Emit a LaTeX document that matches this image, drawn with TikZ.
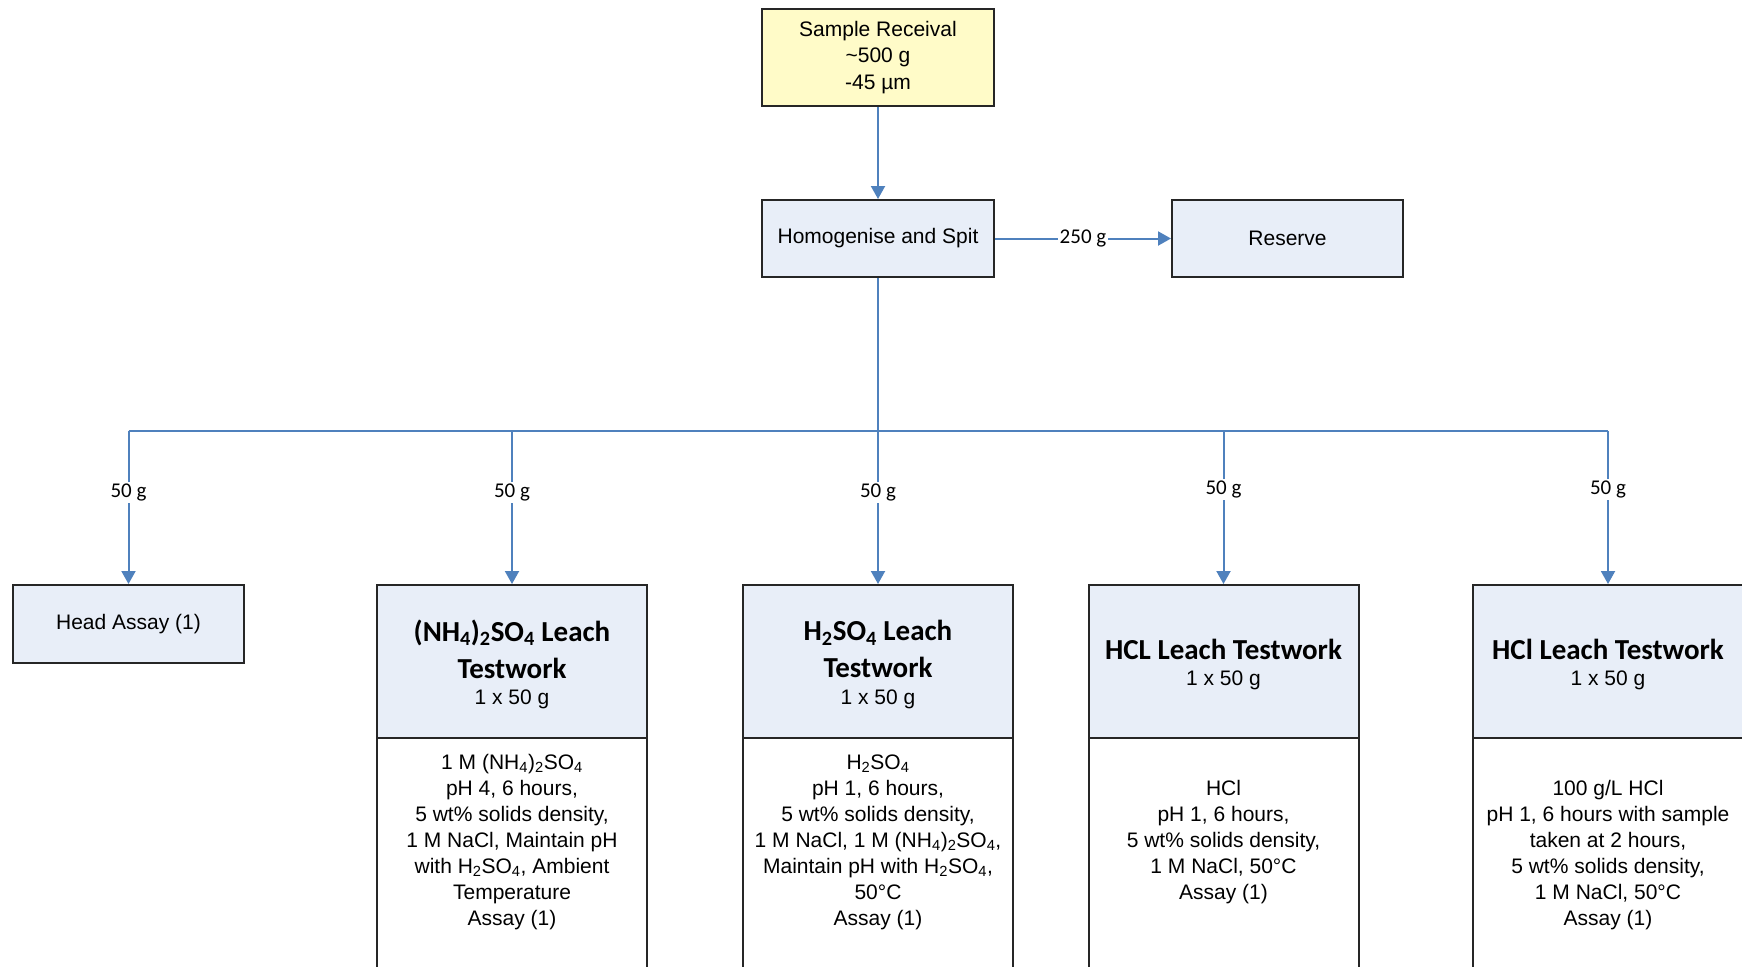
\documentclass[tikz,border=0pt]{standalone}
\usepackage{fontspec}
\setmainfont{Liberation Sans}
\newfontfamily\calibri{Carlito}
\usetikzlibrary{arrows.meta}
\definecolor{conn}{HTML}{4F81BD}
\definecolor{boxblue}{HTML}{E8EEF8}
\definecolor{boxyellow}{HTML}{FFFBC8}
\definecolor{edgecol}{HTML}{262626}
\tikzset{
  box/.style={draw=edgecol, line width=2pt, fill=boxblue, minimum width=232pt,
    minimum height=77pt, inner sep=0pt, align=center,
    font=\fontsize{21}{26.5}\selectfont},
  hdr/.style={draw=edgecol, line width=2pt, fill=boxblue, minimum width=270pt,
    minimum height=153pt, inner sep=0pt},
  bodybox/.style={draw=edgecol, line width=2pt, fill=white, minimum width=270pt,
    minimum height=262pt, inner sep=0pt},
  titletext/.style={align=center, inner sep=0pt,
    font=\calibri\bfseries\fontsize{29}{37}\selectfont},
  plaintext/.style={align=center, inner sep=0pt,
    font=\fontsize{21}{26}\selectfont},
  wlabel/.style={fill=white, inner sep=2pt, font=\calibri\fontsize{21}{23}\selectfont},
  line/.style={draw=conn, line width=2pt},
  flow/.style={line, -{Triangle[length=13pt,width=14pt]}}
}
\begin{document}
\begin{tikzpicture}[x=1pt,y=-1pt]
\useasboundingbox (0,0) rectangle (1742,966);
\fill[white] (0,0) rectangle (1742,966);
\clip (0,0) rectangle (1742,966);

% top boxes
\node[box, fill=boxyellow, minimum height=97pt] (sample) at (878,57.5)
  {Sample Receival\\\textasciitilde500 g\\-45 µm};
\node[box] (homog) at (878,238.5) {Homogenise and Spit};
\node[box, minimum width=231pt] (reserve) at (1287.5,238.5) {Reserve};
\node[box, minimum width=231pt, minimum height=78pt] (head) at (128.5,624) {Head Assay (1)};

% leach boxes: headers
\node[hdr] (nhH) at (512,661.5) {};
\node[hdr] (h2H) at (878,661.5) {};
\node[hdr] (hcH) at (1223.5,661.5) {};
\node[hdr] (hlH) at (1608,661.5) {};
% leach boxes: bodies
\node[bodybox] (nhB) at (512,869) {};
\node[bodybox] (h2B) at (878,869) {};
\node[bodybox] (hcB) at (1223.5,869) {};
\node[bodybox] (hlB) at (1608,869) {};

% header texts
\node[titletext] (nhT) at (512,649)
  {(NH\textsubscript{4})\textsubscript{2}SO\textsubscript{4} Leach\\Testwork};
\node[plaintext] (nhW) at (512,699) {1 x 50 g};
\node[titletext] (h2T) at (878,649)
  {H\textsubscript{2}SO\textsubscript{4} Leach\\Testwork};
\node[plaintext] (h2W) at (878,699) {1 x 50 g};
\node[titletext] (hcT) at (1223.5,649) {HCL Leach Testwork};
\node[plaintext] (hcW) at (1223.5,680) {1 x 50 g};
\node[titletext] (hlT) at (1608,649) {HCl Leach Testwork};
\node[plaintext] (hlW) at (1608,680) {1 x 50 g};

% body texts
\node[plaintext] (nhX) at (512,842)
  {1 M (NH\textsubscript{4})\textsubscript{2}SO\textsubscript{4}\\
   pH 4, 6 hours,\\
   5 wt\% solids density,\\
   1 M NaCl, Maintain pH\\
   with H\textsubscript{2}SO\textsubscript{4}, Ambient\\
   Temperature\\
   Assay (1)};
\node[plaintext] (h2X) at (878,842)
  {H\textsubscript{2}SO\textsubscript{4}\\
   pH 1, 6 hours,\\
   5 wt\% solids density,\\
   1 M NaCl, 1 M (NH\textsubscript{4})\textsubscript{2}SO\textsubscript{4},\\
   Maintain pH with H\textsubscript{2}SO\textsubscript{4},\\
   50°C\\
   Assay (1)};
\node[plaintext] (hcX) at (1223.5,842)
  {HCl\\
   pH 1, 6 hours,\\
   5 wt\% solids density,\\
   1 M NaCl, 50°C\\
   Assay (1)};
\node[plaintext] (hlX) at (1608,855)
  {100 g/L HCl\\
   pH 1, 6 hours with sample\\
   taken at 2 hours,\\
   5 wt\% solids density,\\
   1 M NaCl, 50°C\\
   Assay (1)};

% connectors
\draw[flow] (sample.south) -- (homog.north);
\draw[flow] (homog.east) -- node[wlabel]{250 g} (reserve.west);

\coordinate (bus1) at (head.north |- 0,431);
\coordinate (bus2) at (nhH.north |- 0,431);
\coordinate (bus3) at (h2H.north |- 0,431);
\coordinate (bus4) at (hcH.north |- 0,431);
\coordinate (bus5) at (hlH.north |- 0,431);

\draw[line] (homog.south) -- (bus3);
\draw[line] (bus1) -- (bus5);
\draw[flow] (bus1) -- node[wlabel, pos=0.40]{50 g} (head.north);
\draw[flow] (bus2) -- node[wlabel, pos=0.40]{50 g} (nhH.north);
\draw[flow] (bus3) -- node[wlabel, pos=0.40]{50 g} (h2H.north);
\draw[flow] (bus4) -- node[wlabel, pos=0.38]{50 g} (hcH.north);
\draw[flow] (bus5) -- node[wlabel, pos=0.38]{50 g} (hlH.north);
\end{tikzpicture}
\end{document}
